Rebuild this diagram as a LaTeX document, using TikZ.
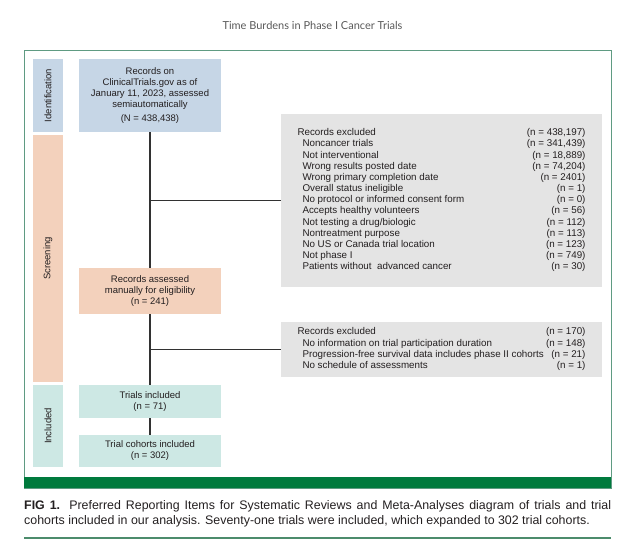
\documentclass[tikz,border=0pt]{standalone}
\usepackage{fontspec}
\setmainfont{Liberation Sans}
\newfontfamily\titlefont{Lato}
\usetikzlibrary{backgrounds}
\definecolor{idblue}{RGB}{198,214,230}
\definecolor{scrpeach}{RGB}{243,209,188}
\definecolor{incmint}{RGB}{205,232,228}
\definecolor{exgray}{RGB}{228,228,228}
\definecolor{framegreen}{RGB}{95,155,130}
\definecolor{bargreen}{RGB}{0,122,61}
\definecolor{rulegreen}{RGB}{76,140,108}
\definecolor{linegray}{RGB}{50,50,50}
\definecolor{txt}{RGB}{35,31,32}
\newcommand\exrow[2]{\makebox[288pt]{#1\hfill#2}}
\newcommand\exsub[2]{\makebox[288pt]{\hspace*{5pt}#1\hfill#2}}
\begin{document}
\begin{tikzpicture}[x=1pt,y=-1pt,
  boxtext/.style={font=\fontsize{9.5}{11}\selectfont, text=txt},
  flowbox/.style={boxtext, inner sep=0pt, minimum width=142pt, align=center},
  stagebar/.style={boxtext, inner sep=0pt, rotate=90, minimum height=30pt},
  exbox/.style={font=\fontsize{9.8}{11.17}\selectfont, text=txt, fill=exgray, inner sep=0pt, minimum width=321pt},
  conn/.style={draw=linegray, line width=1.4pt}]
\useasboundingbox (0,0) rectangle (625,551);
% title
\node[font=\titlefont\fontsize{11}{13}\selectfont, text=black!65] (title) at (312.5,25) {Time Burdens in Phase I Cancer Trials};
% frame
\draw[framegreen, line width=0.8pt] (24,50) rectangle (611,488);
\fill[bargreen] (24,477) rectangle (611,488);
% stage bars
\node[stagebar, fill=idblue, minimum width=73pt] (sid) at (48,95.5) {Identification};
\node[stagebar, fill=scrpeach, minimum width=247pt] (sscr) at (48,258.5) {Screening};
\node[stagebar, fill=incmint, minimum width=82pt] (sinc) at (48,426) {Included};
% flow boxes
\node[flowbox, fill=idblue, minimum height=73pt] (rec) at (150,95.5)
  {Records on\\ClinicalTrials.gov as of\\January 11, 2023, assessed\\semiautomatically\\[2.5pt](N = 438,438)};
\node[flowbox, fill=scrpeach, minimum height=46pt] (man) at (150,291)
  {Records assessed\\manually for eligibility\\(n = 241)};
\node[flowbox, fill=incmint, minimum height=33pt] (inc) at (150,401.5)
  {Trials included\\(n = 71)};
\node[flowbox, fill=incmint, minimum height=32pt] (coh) at (150,451)
  {Trial cohorts included\\(n = 302)};
% exclusion boxes
\node[exbox, minimum height=173pt] (ex1) at (441.5,200.5) {%
\begin{tabular}{@{}l@{}}
\exrow{Records excluded}{(n = 438,197)}\\
\exsub{Noncancer trials}{(n = 341,439)}\\
\exsub{Not interventional}{(n = 18,889)}\\
\exsub{Wrong results posted date}{(n = 74,204)}\\
\exsub{Wrong primary completion date}{(n = 2401)}\\
\exsub{Overall status ineligible}{(n = 1)}\\
\exsub{No protocol or informed consent form}{(n = 0)}\\
\exsub{Accepts healthy volunteers}{(n = 56)}\\
\exsub{Not testing a drug/biologic}{(n = 112)}\\
\exsub{Nontreatment purpose}{(n = 113)}\\
\exsub{No US or Canada trial location}{(n = 123)}\\
\exsub{Not phase I}{(n = 749)}\\
\exsub{Patients without\ \ advanced cancer}{(n = 30)}
\end{tabular}};
\node[exbox, minimum height=55pt] (ex2) at (441.5,349.5) {%
\begin{tabular}{@{}l@{}}
\exrow{Records excluded}{(n = 170)}\\
\exsub{No information on trial participation duration}{(n = 148)}\\
\exsub{Progression-free survival data includes phase II cohorts}{(n = 21)}\\
\exsub{No schedule of assessments}{(n = 1)}
\end{tabular}};
% connectors (behind the boxes)
\begin{scope}[on background layer]
\draw[conn] (rec.south) -- (inc.north);
\draw[conn] (inc.south) -- (coh.north);
\draw[conn] (rec.south |- ex1.west) -- (ex1.west);
\draw[conn] (rec.south |- ex2.west) -- (ex2.west);
\end{scope}
% caption
\node[anchor=north west, inner sep=0pt, text width=587pt, align=justify, text=txt,
  font=\fontsize{12.4}{15}\selectfont] (cap) at (24,500.5)
  {\textbf{FIG 1.} Preferred Reporting Items for Systematic Reviews and Meta-Analyses diagram of trials and trial\linebreak cohorts included in our analysis. Seventy-one trials were included, which expanded to 302 trial cohorts.};
\draw[rulegreen, line width=2pt] (24,538) -- (611,538);
\end{tikzpicture}
\end{document}
